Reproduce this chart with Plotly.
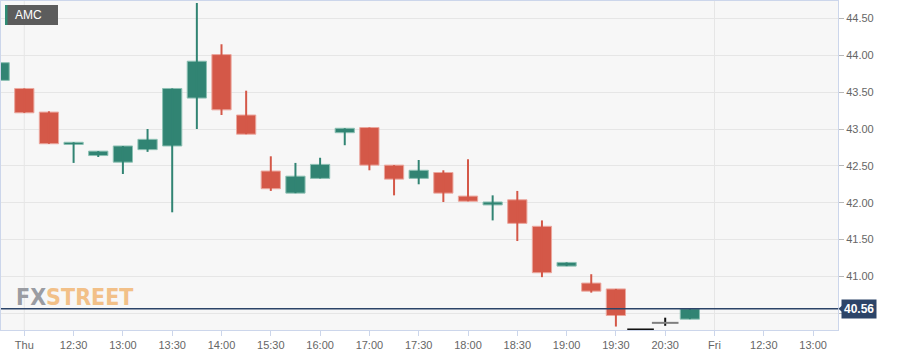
import plotly.graph_objects as go

# ---- data -------------------------------------------------------------
symbol = "AMC"
candle_x = list(range(29))          # 15-minute candle slots
opens  = [43.66, 43.55, 43.23, 42.79, 42.64, 42.55, 42.72, 42.77, 43.42, 44.01,
          43.19, 42.43, 42.13, 42.33, 42.95, 43.02, 42.51, 42.33, 42.41, 42.09,
          41.97, 42.04, 41.68, 41.14, 40.91, 40.83, 40.28, 40.37, 40.42]
highs  = [43.90, 43.55, 43.24, 42.82, 42.70, 42.77, 43.00, 43.55, 44.71, 44.15,
          43.52, 42.63, 42.54, 42.61, 43.01, 43.02, 42.51, 42.58, 42.44, 42.59,
          42.10, 42.16, 41.76, 41.19, 41.03, 40.83, 40.28, 40.44, 40.56]
lows   = [43.66, 43.22, 42.80, 42.54, 42.62, 42.39, 42.69, 41.87, 43.00, 43.19,
          42.93, 42.16, 42.13, 42.33, 42.78, 42.44, 42.10, 42.25, 42.01, 42.02,
          41.76, 41.48, 40.99, 41.14, 40.78, 40.32, 40.28, 40.33, 40.42]
closes = [43.90, 43.22, 42.80, 42.82, 42.70, 42.77, 42.86, 43.55, 43.92, 43.26,
          42.93, 42.19, 42.36, 42.52, 43.01, 42.51, 42.32, 42.44, 42.13, 42.02,
          42.01, 41.72, 41.05, 41.19, 40.80, 40.47, 40.28, 40.37, 40.56]
last_price = 40.56
tick_pos  = list(range(1, 34, 2))
tick_text = ["Thu", "12:30", "13:00", "13:30", "14:00", "15:30", "16:00", "17:00",
             "17:30", "18:00", "18:30", "19:00", "19:30", "20:30", "Fri", "12:30", "13:00"]
day_breaks = [1, 29]

# ---- styles -----------------------------------------------------------
UP, UP_EDGE = "#318473", "#8cc0b3"
DN, DN_EDGE = "#d45848", "#eba79e"
NAVY = "#2c4468"
FONT = "Liberation Sans, Arial, sans-serif"

fig = go.Figure()

# wicks
for color, cond in ((UP, lambda o, c: c > o), (DN, lambda o, c: c < o), ("#111111", lambda o, c: c == o)):
    wx, wy = [], []
    for x, o, h, l, c in zip(candle_x, opens, highs, lows, closes):
        if cond(o, c) and h > l:
            wx += [x, x, None]
            wy += [l, h, None]
    fig.add_trace(go.Scatter(x=wx, y=wy, mode="lines", line=dict(color=color, width=2),
                             hoverinfo="skip"))

# bodies
bx, bbase, bh, bcol, bedge = [], [], [], [], []
dx, dy, dcol = [], [], []
for x, o, c in zip(candle_x, opens, closes):
    if c == o:
        dx.append(x); dy.append(o)
        dcol.append("#111111" if len(dx) == 1 else "#7f7f7f")
        continue
    bx.append(x); bbase.append(min(o, c)); bh.append(abs(c - o))
    bcol.append(UP if c > o else DN); bedge.append(UP_EDGE if c > o else DN_EDGE)

fig.add_trace(go.Bar(x=bx, y=bh, base=bbase, width=0.78,
                     marker=dict(color=bcol, line=dict(color=bedge, width=1)),
                     hoverinfo="skip"))
fig.add_trace(go.Scatter(x=dx, y=dy, mode="markers",
                         marker=dict(symbol="line-ew", size=19,
                                     line=dict(color=dcol, width=2)),
                         hoverinfo="skip"))

# ---- layout -----------------------------------------------------------
L, R, T, B = 1, 71, 1, 26
W, H = 909, 356
pw, ph = W - L - R, H - T - B
def px(xp):
    return (xp - L) / pw
def py(yp):
    return (H - B - yp) / ph

shapes = []
for d in day_breaks:
    shapes.append(dict(type="line", xref="x", yref="paper", x0=d, x1=d, y0=0, y1=1,
                       line=dict(color="#e6e6e6", width=1), layer="below"))
shapes.append(dict(type="line", xref="paper", yref="y", x0=0, x1=1,
                   y0=last_price, y1=last_price, line=dict(color=NAVY, width=1.5),
                   layer="above"))
# pointer of the last-price label
dy_px = 4 * (44.737 - 40.273) / ph
shapes.append(dict(type="path", xref="paper", yref="y",
                   path="M %f,%f L %f,%f L %f,%f Z" % (px(838.5), last_price,
                                                        px(843), last_price + dy_px,
                                                        px(843), last_price - dy_px),
                   fillcolor=NAVY, line=dict(width=0), layer="above"))
shapes.append(dict(type="rect", xref="paper", yref="paper", x0=px(5), x1=px(58),
                   y0=py(25), y1=py(5), fillcolor="#5c5c5c", line=dict(width=0)))
shapes.append(dict(type="rect", xref="paper", yref="paper", x0=px(5), x1=px(7.5),
                   y0=py(25), y1=py(5), fillcolor="#2f8c74", line=dict(width=0)))

annotations = [
    dict(xref="paper", yref="paper", x=px(28), y=py(15), xanchor="center", yanchor="middle",
         text=symbol, showarrow=False, font=dict(family=FONT, size=12, color="white")),
    dict(xref="paper", yref="y", x=1, y=last_price, xanchor="left", yanchor="middle",
         xshift=3, text="<b>%.2f</b>" % last_price, showarrow=False, bgcolor=NAVY,
         borderpad=2, font=dict(family=FONT, size=12, color="white")),
    dict(xref="paper", yref="paper", x=px(14), y=py(297), xanchor="left", yanchor="middle",
         text="<b><span style='color:#9a9ca2'>FX</span><span style='color:#f2c088'>STREET</span></b>",
         showarrow=False,
         font=dict(family="Liberation Sans Narrow, DejaVu Sans Condensed, Arial Narrow, sans-serif",
                   size=23)),
]

fig.update_layout(
    width=W, height=H, margin=dict(l=L, r=R, t=T, b=B),
    paper_bgcolor="white", plot_bgcolor="#f7f7f7",
    showlegend=False, barmode="overlay", hovermode=False,
    font=dict(family=FONT, size=11, color="#666666"),
    shapes=shapes, annotations=annotations,
    xaxis=dict(range=[0.055, 34.01], tickmode="array", tickvals=tick_pos, ticktext=tick_text,
               ticks="outside", ticklen=5, tickcolor="#ccd6eb", showgrid=False, zeroline=False,
               showline=True, linecolor="#ccd6eb", mirror=True,
               tickfont=dict(family=FONT, size=11, color="#666666")),
    yaxis=dict(side="right", range=[40.273, 44.737], tick0=40, dtick=0.5, tickformat=".2f",
               gridcolor="#e6e6e6", ticks="outside", ticklen=5, tickcolor="#b8b8b8",
               zeroline=False, showline=True, linecolor="#ccd6eb", mirror=True,
               tickfont=dict(family=FONT, size=11, color="#666666")),
)

fig.write_html("out.html")
